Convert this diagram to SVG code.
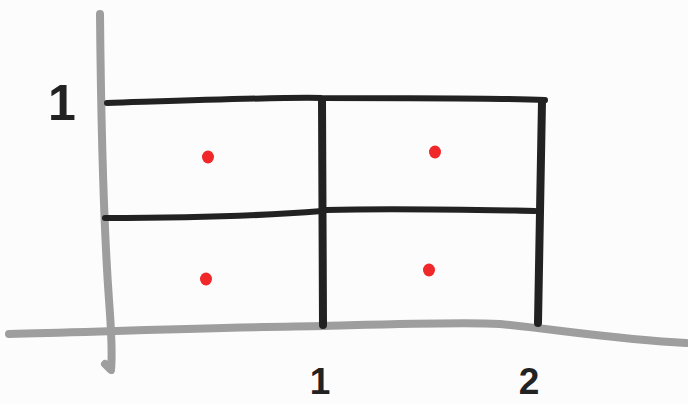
<svg xmlns="http://www.w3.org/2000/svg" width="688" height="404" viewBox="0 0 688 404">
<style>
.axis{fill:none;stroke:#9e9e9e;stroke-width:8;stroke-linecap:round;stroke-linejoin:round}
.ink{fill:none;stroke:#222;stroke-width:6;stroke-linecap:round;stroke-linejoin:round}
.thick{stroke-width:8}
.dot{fill:#f0282a}
.lbl{font-family:"Liberation Sans",Arial,sans-serif;font-weight:bold;fill:#222;text-anchor:middle}
</style>
<rect width="688" height="404" fill="#fcfcfc"/>
<g id="axes">
<path class="axis" d="M100,14 C101,120 104,230 109,300 C112,340 112,360 111,370 L105,364"/>
<path class="axis" d="M9,334 C120,331 240,327 325,326 C400,324 460,322 500,324 C560,330 620,340 686,343"/>
</g>
<g id="grid">
<path class="ink" d="M107,103 C200,100 280,97 322,98 C420,98 500,98 545,100"/>
<path class="ink thick" d="M322,100 L323,325"/>
<path class="ink thick" d="M542,101 L538,323"/>
<path class="ink" d="M105,218 C170,218 260,216 322,211"/>
<path class="ink" d="M326,210 C400,208 480,210 535,211"/>
</g>
<g id="points">
<ellipse class="dot" cx="208" cy="157" rx="6" ry="6.5"/>
<ellipse class="dot" cx="435" cy="152" rx="6" ry="6.5"/>
<ellipse class="dot" cx="206" cy="279" rx="6" ry="6.5"/>
<ellipse class="dot" cx="429" cy="270" rx="6" ry="6.5"/>
</g>
<g id="labels">
<text class="lbl" x="62" y="120" font-size="50">1</text>
<text class="lbl" x="320" y="394" font-size="37">1</text>
<text class="lbl" x="529" y="394" font-size="37">2</text>
</g>
</svg>
